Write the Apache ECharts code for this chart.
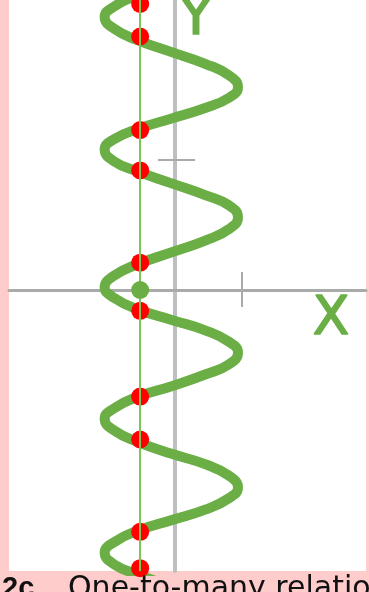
<!DOCTYPE html>
<html>
<head>
<meta charset="utf-8">
<script src="https://cdn.jsdelivr.net/npm/echarts@6/dist/echarts.min.js"></script>
<style>
  html, body { margin: 0; padding: 0; background: #ffcccc; overflow: hidden; }
  #chart { width: 369px; height: 592px; }
</style>
</head>
<body>
<div id="chart"></div>
<script>
// Curve (x in X-tick units, y in Y-tick units)
const curveX = [
  0.94, 0.81, 0.45, -0.05, -0.55, -0.91, -1.05,
  -0.91, -0.55, -0.05, 0.45, 0.81, 0.94,
  0.81, 0.45, -0.05, -0.55, -0.91, -1.05,
  -0.91, -0.55, -0.05, 0.45, 0.81, 0.94,
  0.81, 0.45, -0.05, -0.55, -0.91, -1.05,
  -0.91, -0.55, -0.05, 0.45, 0.81, 0.94,
  0.81, 0.45, -0.05, -0.55, -0.91, -1.05,
  -0.91, -0.55, -0.05, 0.45, 0.81, 0.94,
  0.81, 0.45, -0.05, -0.55, -0.91, -1.05,
  -0.91, -0.55, -0.05, 0.45, 0.81, 0.94
];
const curveY = [
  2.60, 2.52, 2.43, 2.35, 2.27, 2.18, 2.10,
  2.01, 1.92, 1.83, 1.74, 1.65, 1.56,
  1.48, 1.40, 1.32, 1.24, 1.16, 1.08,
  0.99, 0.91, 0.82, 0.73, 0.65, 0.56,
  0.47, 0.38, 0.29, 0.20, 0.11, 0.02,
  -0.06, -0.15, -0.23, -0.31, -0.40, -0.48,
  -0.57, -0.65, -0.74, -0.82, -0.91, -0.99,
  -1.08, -1.17, -1.26, -1.34, -1.43, -1.52,
  -1.60, -1.69, -1.77, -1.85, -1.94, -2.02,
  -2.11, -2.19, -2.28, -2.37, -2.45, -2.54
];
// vertical test line and its intersections with the curve
const lineX = -0.52;
const dotY = [2.20, 1.95, 1.23, 0.92, 0.21, -0.16, -0.82, -1.15, -1.86, -2.14];
const pointY = [0];
// axis ticks and labels
const xTicks = [1];
const yTicks = [1];
const xName = 'X';
const yName = 'Y';
const captionNumber = '2c';
const captionText = 'One-to-many relation';

const GREEN = '#6aae45';
const AXIS_GRAY = '#a9abab';
const X_MIN = -2.478, X_MAX = 2.851;
const Y_MIN = -2.1615, Y_MAX = 2.2308;

function xAxisCfg(pos, showLine, tickLen) {
  return {
    type: 'value', position: pos, min: X_MIN, max: X_MAX,
    axisLine: { show: showLine, onZero: true, onZeroAxisIndex: 0,
      lineStyle: { color: AXIS_GRAY, width: 3 } },
    axisTick: { show: true, customValues: xTicks, length: tickLen,
      lineStyle: { color: AXIS_GRAY, width: 2 } },
    axisLabel: { show: false }, splitLine: { show: false }
  };
}
function yAxisCfg(pos, showLine, tickLen) {
  return {
    type: 'value', position: pos, min: Y_MIN, max: Y_MAX,
    axisLine: { show: showLine, onZero: true, onZeroAxisIndex: 0,
      lineStyle: { color: '#bcc0c2', width: 4 } },
    axisTick: { show: true, customValues: yTicks, length: tickLen,
      lineStyle: { color: AXIS_GRAY, width: 2 } },
    axisLabel: { show: false }, splitLine: { show: false }
  };
}

const chart = echarts.init(document.getElementById('chart'), null, { renderer: 'canvas' });
chart.setOption({
  animation: false,
  backgroundColor: '#ffcccc',
  grid: { left: 9, right: 3, top: 0, bottom: 21, show: true,
    backgroundColor: '#ffffff', borderWidth: 0 },
  xAxis: [xAxisCfg('bottom', true, 17), xAxisCfg('top', false, 18)],
  yAxis: [yAxisCfg('left', true, 17), yAxisCfg('right', false, 20)],
  title: {
    text: '{b|' + captionNumber + '}' + captionText,
    left: 2, top: 574, padding: 0,
    textStyle: {
      fontFamily: 'DejaVu Sans', fontSize: 30, color: '#111111', fontWeight: 'normal',
      rich: { b: { fontFamily: 'Liberation Sans', fontSize: 29, fontWeight: 'bold', color: '#111111', width: 66 } }
    }
  },
  graphic: [
    { type: 'text', x: 331, y: 320, z: 10,
      style: { text: xName, fill: GREEN, font: '54px "DejaVu Sans"', align: 'center', verticalAlign: 'middle',
        stroke: GREEN, lineWidth: 1.5 } },
    { type: 'text', x: 196, y: 20, z: 10,
      style: { text: yName, fill: GREEN, font: '54px "DejaVu Sans"', align: 'center', verticalAlign: 'middle',
        stroke: GREEN, lineWidth: 1.5 } }
  ],
  series: [
    {
      type: 'line', xAxisIndex: 0, yAxisIndex: 0,
      data: curveX.map((x, i) => [x, curveY[i]]),
      smooth: 0.5, showSymbol: false, silent: true, z: 2,
      lineStyle: { color: GREEN, width: 10, cap: 'round', join: 'round' }
    },
    {
      type: 'scatter', xAxisIndex: 0, yAxisIndex: 0,
      data: dotY.map(y => [lineX, y]),
      symbol: 'circle', symbolSize: 18, silent: true, z: 4,
      itemStyle: { color: '#ff0000', opacity: 1 }
    },
    {
      type: 'scatter', xAxisIndex: 0, yAxisIndex: 0,
      data: pointY.map(y => [lineX, y]),
      symbol: 'circle', symbolSize: 18, silent: true, z: 5,
      itemStyle: { color: GREEN, opacity: 1 },
      markLine: {
        silent: true, symbol: ['none', 'none'], animation: false,
        label: { show: false },
        lineStyle: { color: '#7cc556', width: 2, type: 'solid', opacity: 1 },
        data: [{ xAxis: lineX }]
      }
    }
  ]
});
</script>
</body>
</html>
